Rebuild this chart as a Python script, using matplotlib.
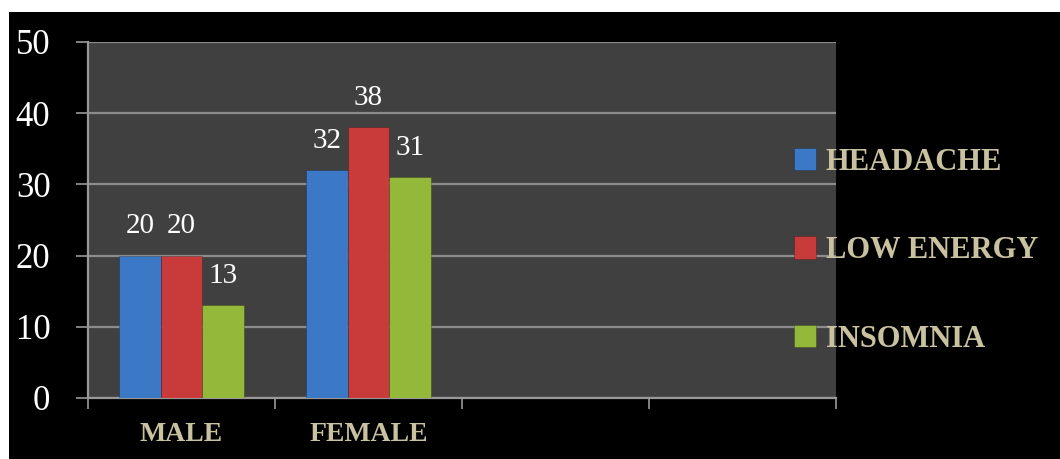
import numpy as np
import matplotlib.pyplot as plt
from matplotlib.patches import Rectangle

categories = ['MALE', 'FEMALE', '', '']
headache = [20, 32]
low_energy = [20, 38]
insomnia = [13, 31]
series_names = ['HEADACHE', 'LOW ENERGY', 'INSOMNIA']
colors = ['#3b78c6', '#c93b3b', '#93b83a']
tan = '#c9c2a0'

fig = plt.figure(figsize=(10.6, 4.59), dpi=100, facecolor='white')
# black slide background
fig.patches.append(Rectangle((9 / 1060, 0), 1, 1 - 12 / 459, transform=fig.transFigure,
                             facecolor='black', edgecolor='none', zorder=-5))

ax = fig.add_axes([88 / 1060, 61 / 459, 748 / 1060, 356 / 459])
ax.set_facecolor('#404040')

w = 0.222
x = np.arange(len(headache)) + 0.5
for i, (vals, name, c) in enumerate(zip([headache, low_energy, insomnia], series_names, colors)):
    bars = ax.bar(x + (i - 1) * w, vals, width=w, color=c, edgecolor='#00000040',
                  linewidth=0.6, label=name, zorder=3)
    for b, v in zip(bars, vals):
        ax.text(b.get_x() + b.get_width() / 2, v + 2.3, str(v), ha='center', va='bottom',
                color='white', fontsize=21, family='Liberation Serif', zorder=4)

ax.set_xlim(0, len(categories))
ax.set_ylim(0, 50)
ax.set_yticks(range(0, 51, 10))
ax.set_xticks(range(0, len(categories) + 1))
ax.set_xticklabels([])
ax.set_xticks(np.arange(len(categories)) + 0.5, minor=True)
ax.set_xticklabels(categories, minor=True)
ax.tick_params(axis='x', which='minor', length=0, pad=17, labelsize=20, labelcolor=tan)
ax.tick_params(axis='x', which='major', length=8, color='#999999', width=1.2)
ax.tick_params(axis='y', length=9, color='#999999', width=1.2, labelsize=25,
               labelcolor='white', pad=18)
for lab in ax.get_xticklabels(minor=True):
    lab.set_family('Liberation Serif')
    lab.set_fontweight('bold')
for lab in ax.get_yticklabels():
    lab.set_family('Liberation Serif')

ax.yaxis.grid(True, color='#8c8c8c', linewidth=1.6, zorder=1)
for s in ['right', 'top']:
    ax.spines[s].set_visible(False)
for s in ['left', 'bottom']:
    ax.spines[s].set_color('#999999')
    ax.spines[s].set_linewidth(1.6)

leg = fig.legend(loc='upper left', bbox_to_anchor=(766 / 1060, 1 - 120 / 459), frameon=False,
                 handlelength=0.75, handleheight=0.75, handletextpad=0.3, labelspacing=1.95,
                 prop={'family': 'Liberation Serif', 'weight': 'bold', 'size': 22})
for t in leg.get_texts():
    t.set_color(tan)

fig.savefig('out.png', dpi=100, facecolor=fig.get_facecolor())
